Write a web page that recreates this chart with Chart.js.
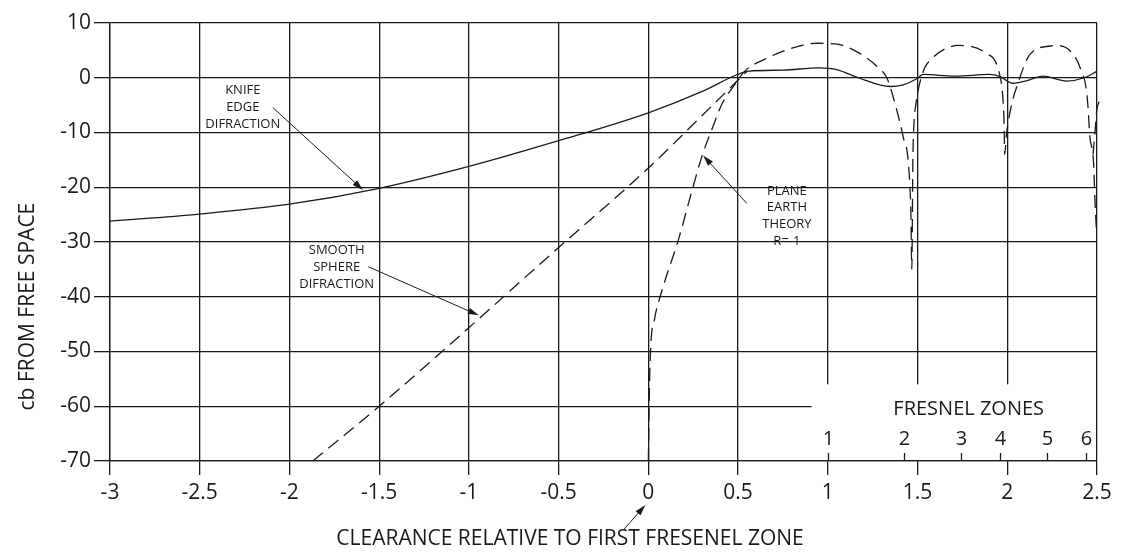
<!DOCTYPE html>
<html lang="en">
<head>
  <meta charset="UTF-8" />
  <title>Path loss vs clearance</title>
  <script src="https://cdn.jsdelivr.net/npm/chart.js"></script>
  <style>
    html, body { margin: 0; padding: 0; background: #fff; }
    #wrap { width: 1126px; height: 552px; }
  </style>
</head>
<body>
  <div id="wrap"><canvas id="chart" width="1126" height="552"></canvas></div>

  <script>
    // knife edge diffraction (solid)
    const knifeX = [-3, -2.5, -2, -1.5, -1, -0.5, 0, 0.3, 0.49, 0.56, 0.75, 0.95, 1.05, 1.17, 1.35, 1.42, 1.5, 1.53, 1.71, 1.9, 1.96, 2.03, 2.1, 2.2, 2.33, 2.43, 2.5, 2.54];
    const knifeY = [-26.2, -24.9, -23.1, -20.2, -16.2, -11.5, -6.4, -2.5, 0.5, 1.2, 1.4, 1.8, 1.5, 0, -1.6, -1.3, -0.1, 0.6, 0.3, 0.6, 0.2, -1, -0.6, 0.3, -0.6, 0, 1.2, 1.9];

    // smooth sphere diffraction (dashed)
    const sphereX = [-1.87, -1.5, -1.15, -0.5, 0, 0.25, 0.55];
    const sphereY = [-70, -60, -50, -31, -16.5, -8.5, 1.2];

    // plane earth theory R=-1 (dashed), null = break in the line
    const planeX = [0, 0.004, 0.012, 0.035, 0.07, 0.17, 0.24, 0.3, 0.36, 0.41, 0.48, 0.54, 0.65, 0.78, 0.94, 1.06, 1.18, 1.28, 1.33, 1.38, 1.42, 1.45, 1.463, 1.468, 1.474, 1.48, 1.49, 1.53, 1.58, 1.73, 1.88, 1.95, 1.975, 1.982, 1.986, 1.995, 2.02, 2.07, 2.11, 2.15, 2.24, 2.28, 2.37, 2.41, 2.44, 2.45, 2.46, 2.48, 2.49, 2.498, 2.49, 2.478, 2.49, 2.5, 2.54];
    const planeY = [-70, -60, -50, -44, -39.5, -29.3, -21, -14.2, -8.9, -4.8, -1.3, 1.3, 3.4, 5.2, 6.3, 6.1, 4.4, 1.9, -0.1, -5.4, -10.8, -16, -25, -35, -15, -8.4, -5, 1, 3.5, 5.9, 4.5, 1.5, -3.5, -8, -14, -10.5, -5.5, 0, 3.4, 5, 5.8, 5.9, 4.2, 1.5, -2, -5.4, -10.7, -15.1, -23.4, -28.5, null, -14, -9.5, -5.6, -3.6];

    // fresnel zone scale along the bottom
    const fresnelPos = [1.0, 1.425, 1.74, 1.96, 2.22, 2.44];
    const fresnelLabels = ['1', '2', '3', '4', '5', '6'];

    const yTicks = [10, 0, -10, -20, -30, -40, -50, -60, -70];

    const FONT = "'Open Sans', 'DejaVu Sans', sans-serif";
    const INK = '#1a1a1a';

    // annotation texts: lines, center x, first line y (data units), line step (px)
    const notes = [
      { lines: ['KNIFE', 'EDGE', 'DIFRACTION'], x: -2.26, y: -2.28, step: 17 },
      { lines: ['SMOOTH', 'SPHERE', 'DIFRACTION'], x: -1.737, y: -31.49, step: 17 },
      { lines: ['PLANE', 'EARTH', 'THEORY', 'R=-1'], x: 0.772, y: -20.66, step: 16.7 }
    ];
    // arrows: [tailX, tailY, tipX, tipY] in data units
    const arrows = [
      [-2.093, -5.44, -1.59, -20.5],
      [-1.56, -34.53, -0.945, -43.4],
      [0.549, -22.96, 0.305, -14.2]
    ];

    function pts(xs, ys) {
      return xs.map((x, i) => ({ x: x, y: ys[i] }));
    }

    function arrow(ctx, x1, y1, x2, y2) {
      const a = Math.atan2(y2 - y1, x2 - x1);
      const len = 11, half = 3.2;
      ctx.beginPath();
      ctx.moveTo(x1, y1);
      ctx.lineTo(x2 - Math.cos(a) * len * 0.8, y2 - Math.sin(a) * len * 0.8);
      ctx.stroke();
      ctx.beginPath();
      ctx.moveTo(x2, y2);
      ctx.lineTo(x2 - Math.cos(a) * len - Math.sin(a) * half, y2 - Math.sin(a) * len + Math.cos(a) * half);
      ctx.lineTo(x2 - Math.cos(a) * len + Math.sin(a) * half, y2 - Math.sin(a) * len - Math.cos(a) * half);
      ctx.closePath();
      ctx.fill();
    }

    const decorations = {
      id: 'decorations',
      beforeDatasetsDraw(chart) {
        const { ctx } = chart;
        const xs = chart.scales.x, ys = chart.scales.y;
        // blank box behind the fresnel zone scale
        ctx.save();
        ctx.fillStyle = '#fff';
        const left = xs.getPixelForValue(0.91);
        const top = ys.getPixelForValue(-56);
        ctx.fillRect(left, top, xs.getPixelForValue(2.5) - 1 - left, ys.getPixelForValue(-70) - 1 - top);
        ctx.restore();
      },
      afterDraw(chart) {
        const { ctx, chartArea } = chart;
        const xs = chart.scales.x, ys = chart.scales.y;
        const bottom = ys.getPixelForValue(-70);
        ctx.save();
        ctx.strokeStyle = INK;
        ctx.fillStyle = INK;
        ctx.lineWidth = 1.3;

        // fresnel zone ticks and labels
        fresnelPos.forEach((v, i) => {
          const px = Math.round(xs.getPixelForValue(v)) + 0.5;
          ctx.beginPath();
          ctx.moveTo(px, bottom);
          ctx.lineTo(px, bottom - 8);
          ctx.stroke();
          ctx.font = `20px ${FONT}`;
          ctx.textAlign = 'center';
          ctx.textBaseline = 'middle';
          ctx.fillText(fresnelLabels[i], px, bottom - 22);
        });
        ctx.font = `20px ${FONT}`;
        ctx.fillText('FRESNEL ZONES', xs.getPixelForValue(1.785), bottom - 52);

        // curve labels and arrows
        ctx.font = `13px ${FONT}`;
        notes.forEach(n => {
          const cx = xs.getPixelForValue(n.x);
          const cy = ys.getPixelForValue(n.y);
          n.lines.forEach((t, i) => ctx.fillText(t, cx, cy + i * n.step));
        });
        ctx.lineWidth = 1;
        arrows.forEach(a => {
          arrow(ctx, xs.getPixelForValue(a[0]), ys.getPixelForValue(a[1]), xs.getPixelForValue(a[2]), ys.getPixelForValue(a[3]));
        });

        // axis titles
        const zero = xs.getPixelForValue(0);
        arrow(ctx, zero - 25, bottom + 69, zero - 3, bottom + 44);
        ctx.font = `21px ${FONT}`;
        ctx.fillText('CLEARANCE RELATIVE TO FIRST FRESENEL ZONE', 570, bottom + 78);
        ctx.translate(chartArea.left - 82, ys.getPixelForValue(-41.8));
        ctx.rotate(-Math.PI / 2);
        ctx.fillText('cb FROM FREE SPACE', 0, 0);
        ctx.restore();
      }
    };

    const lineStyle = {
      showLine: true,
      pointRadius: 0,
      borderColor: INK,
      borderWidth: 1.3,
      cubicInterpolationMode: 'monotone',
      spanGaps: false,
      clip: { left: 0, top: 0, right: 9, bottom: 0 }
    };

    new Chart(document.getElementById('chart').getContext('2d'), {
      type: 'scatter',
      data: {
        datasets: [
          { ...lineStyle, label: 'Knife edge diffraction', data: pts(knifeX, knifeY) },
          { ...lineStyle, label: 'Smooth sphere diffraction', data: pts(sphereX, sphereY), borderDash: [13, 7] },
          { ...lineStyle, label: 'Plane earth theory R=-1', data: pts(planeX, planeY), borderDash: [13, 7] }
        ]
      },
      options: {
        responsive: false,
        animation: false,
        layout: { padding: { top: 23, right: 29, left: 0, bottom: 0 } },
        plugins: { legend: { display: false }, tooltip: { enabled: false } },
        scales: {
          x: {
            type: 'linear',
            min: -3,
            max: 2.5,
            ticks: { stepSize: 0.5, color: INK, padding: 5, font: { family: FONT, size: 21 }, callback: v => String(v) },
            grid: { color: INK, lineWidth: 1.3, tickLength: 14 },
            border: { color: INK, width: 1.3 },
            afterFit(scale) { scale.height = 91; }
          },
          y: {
            min: -70,
            max: 10,
            afterBuildTicks(scale) { scale.ticks = yTicks.map(v => ({ value: v })); },
            ticks: { color: INK, padding: 3, font: { family: FONT, size: 21 } },
            grid: { color: INK, lineWidth: 1.3, tickLength: 16 },
            border: { color: INK, width: 1.3 },
            afterFit(scale) { scale.width = 110; }
          }
        }
      },
      plugins: [decorations]
    });
  </script>
</body>
</html>
